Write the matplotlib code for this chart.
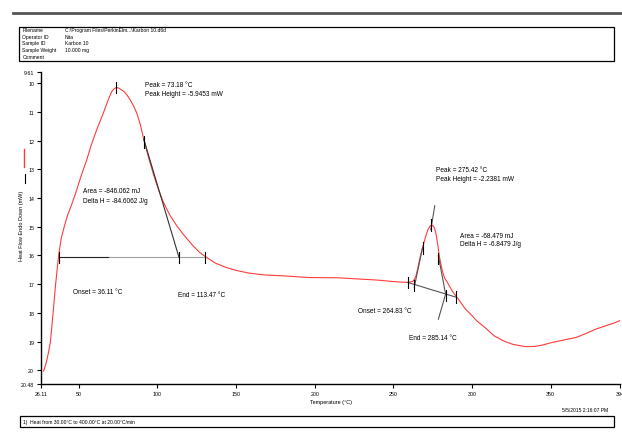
import matplotlib
matplotlib.use("Agg")
import matplotlib.pyplot as plt
from matplotlib.lines import Line2D
from matplotlib.patches import Rectangle

plt.rcParams['font.family'] = ['Liberation Sans', 'DejaVu Sans']

# DSC curve (temperature in C, heat flow in mW)
temp = [27.7, 28.3, 29.6, 30.8, 32.1, 33.8, 35.4, 37.3, 39.0, 41.1, 43.0, 45.3,
        48.0, 51.6, 55.0, 57.9, 60.0, 62.0, 64.2, 66.0, 68.0, 69.4, 71.0, 72.5,
        74.0, 75.5, 77.0, 79.0, 81.0, 83.0, 85.0, 87.0, 89.0, 91.4, 94.0, 97.7,
        101.0, 104.0, 108.0, 112.4, 117.0, 122.8, 127.0, 131.3, 137.0, 143.8,
        150.0, 158.5, 168.0, 179.4, 196.2, 215.0, 240.0, 249.7, 255.0, 259.1,
        262.3, 263.5, 264.4, 265.5, 266.5, 267.5, 268.6, 270.6, 272.0, 273.2,
        274.2, 275.2, 276.0, 276.8, 277.5, 278.3, 279.0, 280.0, 281.1, 282.5,
        284.3, 287.4, 290.6, 295.8, 300.0, 303.0, 309.0, 314.0, 320.0, 326.0,
        334.0, 340.0, 345.0, 351.0, 358.0, 366.0, 372.0, 378.6, 385.0, 391.0,
        394.0]
heat = [20.03, 19.95, 19.7, 19.4, 19.0, 18.0, 17.0, 16.0, 15.4, 14.95, 14.6,
        14.27, 13.85, 13.23, 12.7, 12.18, 11.85, 11.55, 11.25, 11.0, 10.7, 10.5,
        10.3, 10.2, 10.15, 10.17, 10.22, 10.3, 10.43, 10.6, 10.8, 11.05, 11.4,
        11.95, 12.5, 13.2, 13.75, 14.16, 14.6, 14.97, 15.3, 15.67, 15.9, 16.07,
        16.27, 16.42, 16.52, 16.62, 16.68, 16.71, 16.77, 16.78, 16.86, 16.91,
        16.93, 16.94, 16.91, 16.82, 16.71, 16.45, 16.19, 15.95, 15.72, 15.32,
        15.1, 14.98, 14.94, 14.97, 15.03, 15.18, 15.38, 15.65, 15.96, 16.25,
        16.54, 16.78, 16.94, 17.24, 17.47, 17.87, 18.1, 18.28, 18.55, 18.8,
        18.98, 19.1, 19.18, 19.17, 19.12, 19.03, 18.95, 18.86, 18.73, 18.57,
        18.45, 18.34, 18.27]

xticks = [26.11, 50, 100, 150, 200, 250, 300, 350, 394]
xlabels = ['26.11', '50', '100', '150', '200', '250', '300', '350', '394']
yticks = [9.61, 10, 11, 12, 13, 14, 15, 16, 17, 18, 19, 20, 20.48]
ylabels = ['9.61', '10', '11', '12', '13', '14', '15', '16', '17', '18', '19', '20', '20.48']

# peak 1 construction
p1_base_dark = ([37.5, 69.4], [16.07, 16.07])
p1_base_light = ([69.4, 130.6], [16.07, 16.07])
p1_tangent = ([91.4, 113.8], [11.95, 16.07])
p1_ticks = [(74.0, 10.15), (91.4, 12.05), (37.5, 16.07), (113.8, 16.07), (130.6, 16.07)]

# peak 2 construction
p2_base = ([259.1, 289.5], [16.94, 17.45])
p2_left = ([268.6, 263.3], [15.72, 17.1])
p2_right = ([278.6, 283.2], [16.02, 17.35])
p2_pointer = ([283.2, 278.6], [17.35, 18.22])
p2_peakline = ([276.3, 273.8], [14.27, 15.1])
p2_ticks = [(274.2, 14.94), (268.6, 15.75), (263.3, 17.05), (278.6, 16.1),
            (283.2, 17.39), (259.1, 16.94), (289.5, 17.45)]

W, H = 622, 435
fig = plt.figure(figsize=(W / 100, H / 100), dpi=100)


def fx(x):
    return x / W


def fy(y):
    return 1 - y / H


ax = fig.add_axes([fx(41), fy(385), 579 / W, 312 / H])
ax.plot(temp, heat, color='#ff3b3b', lw=0.8)

ax.plot(*p1_base_dark, color='#222222', lw=0.8)
ax.plot(*p1_base_light, color='#a0a0a0', lw=0.8)
ax.plot(*p1_tangent, color='#333333', lw=0.8)
for xs, ys in [p2_base, p2_left, p2_right, p2_pointer, p2_peakline]:
    ax.plot(xs, ys, color='#555555', lw=0.8)
for t, v in p1_ticks + p2_ticks:
    ax.plot([t, t], [v - 0.2, v + 0.2], color='black', lw=0.8)

fs = 4.7
ax.text(92.5, 10.03, 'Peak = 73.18 °C', fontsize=fs, va='center')
ax.text(92.5, 10.35, 'Peak Height = -5.9453 mW', fontsize=fs, va='center')
ax.text(52.6, 13.75, 'Area = -846.062 mJ', fontsize=fs, va='center')
ax.text(52.6, 14.07, 'Delta H = -84.6062 J/g', fontsize=fs, va='center')
ax.text(46.3, 17.27, 'Onset = 36.11 °C', fontsize=fs, va='center')
ax.text(113.0, 17.35, 'End = 113.47 °C', fontsize=fs, va='center')
ax.text(277.4, 13.02, 'Peak = 275.42 °C', fontsize=fs, va='center')
ax.text(277.4, 13.32, 'Peak Height = -2.2381 mW', fontsize=fs, va='center')
ax.text(292.3, 15.3, 'Area = -68.479 mJ', fontsize=fs, va='center')
ax.text(292.3, 15.59, 'Delta H = -6.8479 J/g', fontsize=fs, va='center')
ax.text(227.7, 17.93, 'Onset = 264.83 °C', fontsize=fs, va='center')
ax.text(259.7, 18.86, 'End = 285.14 °C', fontsize=fs, va='center')

ax.set_xlim(26.11, 394)
ax.set_ylim(20.48, 9.61)
ax.set_xticks(xticks)
ax.set_xticklabels(xlabels)
ax.set_yticks(yticks)
ax.set_yticklabels(ylabels)
ax.tick_params(labelsize=3.8, length=3, width=0.8, pad=2)
for s in ['top', 'right']:
    ax.spines[s].set_visible(False)
for s in ['left', 'bottom']:
    ax.spines[s].set_linewidth(1.0)
ax.set_xlabel('Temperature (°C)', fontsize=4, labelpad=2)

# y label with line markers
fig.text(fx(22), fy(226), 'Heat Flow Endo Down (mW)', rotation=90,
         fontsize=4, ha='center', va='center')
fig.add_artist(Line2D([fx(25), fx(25)], [fy(175), fy(184)], color='black', lw=0.8))
fig.add_artist(Line2D([fx(24), fx(24)], [fy(150), fy(168)], color='#ff3b3b', lw=1.0))

# header
fig.add_artist(Line2D([fx(13), fx(622)], [fy(13.8), fy(13.8)], color='#555555', lw=2.0))
fig.add_artist(Rectangle((fx(19), fy(61.5)), (614 - 19) / W, (61.5 - 27.5) / H,
                         transform=fig.transFigure, fill=False, edgecolor='black', lw=0.9))
hdr = [('Filename', 'C:\\Program Files\\PerkinElm...\\Karbon 10.d6d'),
       ('Operator ID', 'Nita'),
       ('Sample ID', 'Karbon 10'),
       ('Sample Weight', '10.000 mg'),
       ('Comment', '')]
for i, (k, val) in enumerate(hdr):
    yy = fy(30.7 + i * 6.6)
    fig.text(fx(22.5), yy, k, fontsize=3.6, va='center')
    fig.text(fx(65), yy, val, fontsize=3.6, va='center')

# footer
fig.text(fx(608), fy(411), '5/5/2015 2:16:07 PM', fontsize=3.6, ha='right', va='center')
fig.add_artist(Rectangle((fx(20), fy(428)), (614 - 20) / W, 11 / H,
                         transform=fig.transFigure, fill=False, edgecolor='black', lw=0.9))
fig.text(fx(23), fy(422.5), '1)  Heat from 30.00°C to 400.00°C at 20.00°C/min',
         fontsize=3.6, va='center')

fig.savefig('out.png', dpi=100)
